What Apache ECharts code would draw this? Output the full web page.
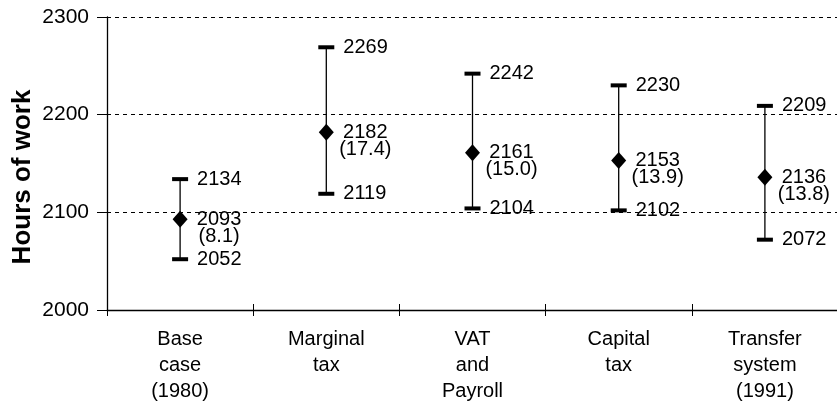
<!DOCTYPE html>
<html>
<head>
<meta charset="utf-8">
<script src="https://cdn.jsdelivr.net/npm/echarts@6/dist/echarts.min.js"></script>
<style>html,body{margin:0;padding:0;background:#fff}#c{width:837px;height:406px}</style>
</head>
<body>
<div id="c"></div>
<script>
var categories = ['Base\ncase\n(1980)', 'Marginal\ntax', 'VAT\nand\nPayroll', 'Capital\ntax', 'Transfer\nsystem\n(1991)'];
var meanValues = [2093, 2182, 2161, 2153, 2136];
var highValues = [2134, 2269, 2242, 2230, 2209];
var lowValues = [2052, 2119, 2104, 2102, 2072];
var stdErrors = ['8.1', '17.4', '15.0', '13.9', '13.8'];
var yTicks = [2000, 2100, 2200, 2300];
var yTitle = 'Hours of work';

var FONT = 'Arial, "Liberation Sans", sans-serif';
var errData = categories.map(function (c, i) {
  return [i, lowValues[i], highValues[i], meanValues[i], stdErrors[i]];
});

var chart = echarts.init(document.getElementById('c'));
chart.setOption({
  backgroundColor: '#fff',
  animation: false,
  grid: { left: 107, right: -1, top: 17, bottom: 96, outerBoundsMode: 'none', containLabel: false },
  graphic: [{
    type: 'text',
    x: 23, y: 177,
    rotation: Math.PI / 2,
    style: { text: yTitle, fill: '#000', font: 'bold 26px ' + FONT, textAlign: 'center', textVerticalAlign: 'middle' }
  }],
  xAxis: [{
    type: 'category',
    data: categories,
    boundaryGap: true,
    axisLine: { show: true, lineStyle: { color: '#000', width: 1.3 } },
    axisTick: { show: true, length: 6, lineStyle: { color: '#000', width: 1 } },
    axisLabel: { color: '#000', fontFamily: FONT, fontSize: 20, lineHeight: 26, margin: 16, interval: 0 },
    splitLine: { show: false }
  }, {
    type: 'category',
    data: categories,
    position: 'bottom',
    boundaryGap: true,
    axisLine: { show: false },
    axisTick: { show: true, inside: true, length: 6, lineStyle: { color: '#000', width: 1 } },
    axisLabel: { show: false },
    splitLine: { show: false }
  }],
  yAxis: {
    type: 'value',
    min: yTicks[0],
    max: yTicks[yTicks.length - 1],
    interval: 100,
    axisLine: { show: true, lineStyle: { color: '#000', width: 1.3 } },
    axisTick: { show: true, length: 10, lineStyle: { color: '#000', width: 1 } },
    axisLabel: { color: '#000', fontFamily: FONT, fontSize: 21, margin: 18, formatter: function (v) { return String(v); } },
    splitLine: { show: true, lineStyle: { color: '#000', type: [4, 4], width: 1 } }
  },
  series: [{
    type: 'custom',
    data: errData,
    encode: { x: 0, y: [1, 2] },
    z: 2,
    renderItem: function (params, api) {
      var i = api.value(0);
      var lo = api.coord([i, api.value(1)]);
      var hi = api.coord([i, api.value(2)]);
      var mid = api.coord([i, api.value(3)]);
      var x = lo[0];
      var style = { fill: '#000', font: '20px ' + FONT };
      return {
        type: 'group',
        children: [
          { type: 'line', shape: { x1: x, y1: hi[1], x2: x, y2: lo[1] }, style: { stroke: '#000', lineWidth: 1.3 } },
          { type: 'rect', shape: { x: x - 8, y: hi[1] - 2, width: 16, height: 4 }, style: { fill: '#000' } },
          { type: 'rect', shape: { x: x - 8, y: lo[1] - 2, width: 16, height: 4 }, style: { fill: '#000' } },
          { type: 'text', x: x + 17, y: hi[1], style: Object.assign({ text: String(api.value(2)), textAlign: 'left', textVerticalAlign: 'middle' }, style) },
          { type: 'text', x: x + 17, y: lo[1], style: Object.assign({ text: String(api.value(1)), textAlign: 'left', textVerticalAlign: 'middle' }, style) },
          { type: 'text', x: x + 39, y: mid[1], style: Object.assign({ text: String(api.value(3)), textAlign: 'center', textVerticalAlign: 'middle' }, style) },
          { type: 'text', x: x + 39, y: mid[1] + 17, style: Object.assign({ text: '(' + stdErrors[i] + ')', textAlign: 'center', textVerticalAlign: 'middle' }, style) }
        ]
      };
    }
  }, {
    type: 'scatter',
    data: meanValues.map(function (v, i) { return [i, v]; }),
    symbol: 'diamond',
    symbolSize: [15, 17],
    itemStyle: { color: '#000', opacity: 1 },
    z: 3
  }]
});
</script>
</body>
</html>
